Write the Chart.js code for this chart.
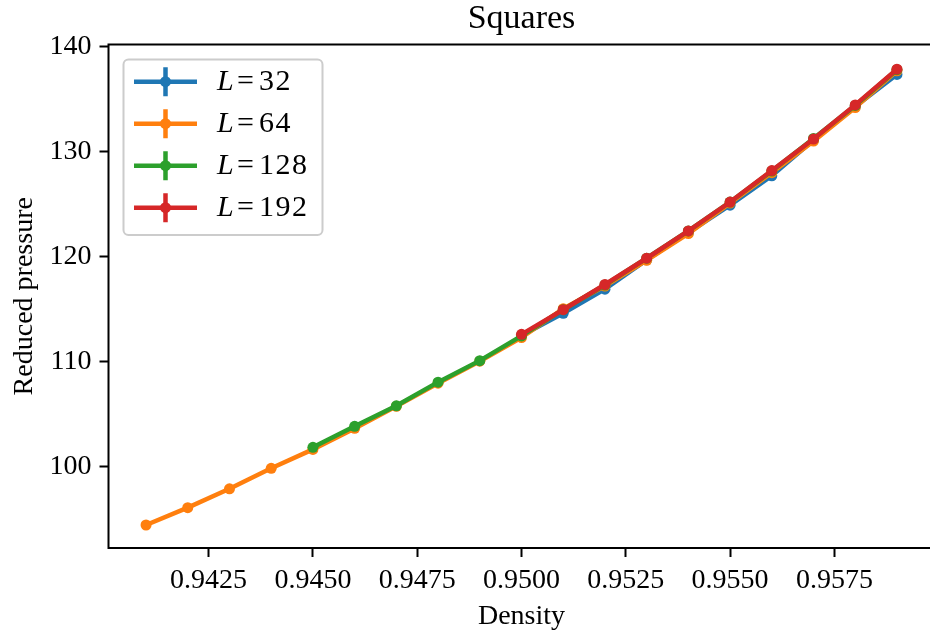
<!DOCTYPE html>
<html>
<head>
<meta charset="utf-8">
<script src="https://cdn.jsdelivr.net/npm/chart.js@4"></script>
<style>
  html, body { margin: 0; padding: 0; background: #fff; overflow: hidden; }
  #wrap { width: 930px; height: 630px; overflow: hidden; }
  canvas { display: block; }
</style>
</head>
<body>
<div id="wrap"><canvas id="eos" width="940" height="630"></canvas></div>
<script>
// density grid per system size
const densityL64 = [0.941, 0.942, 0.943, 0.944, 0.945, 0.946, 0.947, 0.948, 0.949, 0.950,
                    0.951, 0.952, 0.953, 0.954, 0.955, 0.956, 0.957, 0.958, 0.959];
const densityL128 = [0.945, 0.946, 0.947, 0.948, 0.949, 0.950, 0.951, 0.952, 0.953, 0.954,
                     0.955, 0.956, 0.957, 0.958, 0.959];
const densityHigh = [0.950, 0.951, 0.952, 0.953, 0.954, 0.955, 0.956, 0.957, 0.958, 0.959];

// reduced pressure
const pressureL32 = [112.5, 114.6, 116.9, 119.7, 122.3, 124.9, 127.7, 131.1, 134.3, 137.35];
const pressureL64 = [94.45, 96.1, 97.9, 99.85, 101.65, 103.65, 105.75, 107.95, 110.05, 112.3,
                     115.05, 117.2, 119.65, 122.2, 125.1, 128.0, 131.0, 134.2, 137.7];
const pressureL128 = [101.85, 103.85, 105.8, 108.05, 110.1, 112.45, 114.95, 117.3, 119.85, 122.45,
                      125.2, 128.15, 131.25, 134.4, 137.8];
const pressureL192 = [112.6, 114.95, 117.35, 119.85, 122.45, 125.2, 128.2, 131.2, 134.45, 137.85];

const sizes = ['32', '64', '128', '192'];
const colors = ['#1f77b4', '#ff7f0e', '#2ca02c', '#d62728'];
const xTicks = [0.9425, 0.9450, 0.9475, 0.9500, 0.9525, 0.9550, 0.9575];
const yTicks = [100, 110, 120, 130, 140];

const serif = '"Liberation Serif", "Times New Roman", serif';

const pts = (xs, ys) => xs.map((x, i) => ({ x, y: ys[i] }));
const series = [
  pts(densityHigh, pressureL32),
  pts(densityL64, pressureL64),
  pts(densityL128, pressureL128),
  pts(densityHigh, pressureL192)
];

const datasets = series.map((data, i) => ({
  label: 'L=' + sizes[i],
  data,
  borderColor: colors[i],
  backgroundColor: colors[i],
  borderWidth: 4.5,
  pointRadius: 5.5,
  pointBorderWidth: 0,
  pointHoverRadius: 5.5,
  tension: 0,
  order: sizes.length - 1 - i   // later sizes painted on top
}));

// frame, title, axis labels and the legend box
const decor = {
  id: 'decor',
  afterDraw(chart) {
    const { ctx, chartArea: a } = chart;
    ctx.save();
    ctx.strokeStyle = '#000';
    ctx.lineWidth = 2;
    ctx.strokeRect(a.left, a.top, a.right - a.left, a.bottom - a.top);

    ctx.fillStyle = '#000';
    ctx.textAlign = 'center';
    ctx.textBaseline = 'alphabetic';
    ctx.font = '34px ' + serif;
    ctx.fillText('Squares', (a.left + a.right) / 2, 28);

    ctx.font = '28px ' + serif;
    ctx.fillText('Density', (a.left + a.right) / 2, 624);
    ctx.save();
    ctx.translate(32, (a.top + a.bottom) / 2);
    ctx.rotate(-Math.PI / 2);
    ctx.fillText('Reduced pressure', 0, 0);
    ctx.restore();

    // legend
    const bx = 123.5, by = 59.5, bw = 199, bh = 175.5, r = 5;
    ctx.beginPath();
    ctx.roundRect(bx, by, bw, bh, r);
    ctx.fillStyle = 'rgba(255,255,255,0.8)';
    ctx.fill();
    ctx.strokeStyle = '#cccccc';
    ctx.lineWidth = 2;
    ctx.stroke();

    sizes.forEach((s, i) => {
      const cy = 81.7 + i * 42;
      ctx.strokeStyle = colors[i];
      ctx.fillStyle = colors[i];
      ctx.lineWidth = 4.5;
      ctx.beginPath();
      ctx.moveTo(134, cy); ctx.lineTo(197, cy);
      ctx.moveTo(165.5, cy - 14.5); ctx.lineTo(165.5, cy + 14.5);
      ctx.stroke();
      ctx.beginPath();
      ctx.arc(165.5, cy, 5.5, 0, Math.PI * 2);
      ctx.fill();

      ctx.fillStyle = '#000';
      ctx.textAlign = 'left';
      const base = cy + 8.5;
      ctx.font = 'italic 30px ' + serif;
      ctx.fillText('L', 217, base);
      ctx.font = '30px ' + serif;
      ctx.fillText('=', 237, base);
      ctx.letterSpacing = '1.5px';
      ctx.fillText(s, 259, base);
      ctx.letterSpacing = '0px';
    });
    ctx.restore();
  }
};

new Chart(document.getElementById('eos'), {
  type: 'line',
  data: { datasets },
  options: {
    responsive: false,
    devicePixelRatio: 1,
    animation: false,
    layout: { padding: { top: 44.5, right: 2.5, left: 0, bottom: 0 } },
    plugins: { legend: { display: false }, tooltip: { enabled: false } },
    scales: {
      x: {
        type: 'linear',
        min: 0.9401,
        max: 0.9599,
        afterFit: (scale) => { scale.height = 82; },
        afterBuildTicks: (scale) => { scale.ticks = xTicks.map(v => ({ value: v })); },
        border: { display: false },
        grid: { drawOnChartArea: false, drawTicks: true, tickLength: 9, tickWidth: 2, tickColor: '#000', color: '#000' },
        ticks: {
          color: '#000',
          padding: 7,
          maxRotation: 0,
          autoSkip: false,
          font: { family: serif, size: 28 },
          callback: (v) => v.toFixed(4)
        }
      },
      y: {
        min: 92.26,
        max: 140.2,
        afterFit: (scale) => { scale.width = 108.5; },
        afterBuildTicks: (scale) => { scale.ticks = yTicks.map(v => ({ value: v })); },
        border: { display: false },
        grid: { drawOnChartArea: false, drawTicks: true, tickLength: 9, tickWidth: 2, tickColor: '#000', color: '#000' },
        ticks: {
          color: '#000',
          padding: 8,
          font: { family: serif, size: 28 },
          callback: (v) => String(v)
        }
      }
    }
  },
  plugins: [decor]
});
</script>
</body>
</html>
